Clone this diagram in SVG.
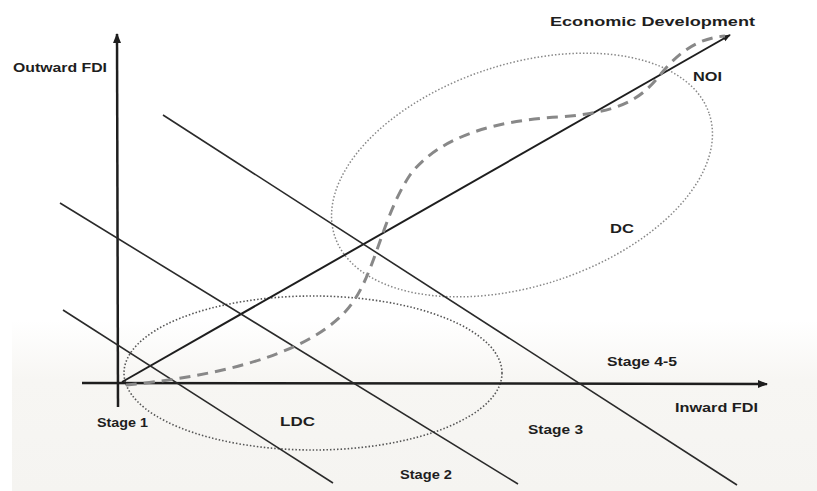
<svg xmlns="http://www.w3.org/2000/svg" width="817" height="491" viewBox="0 0 817 491">
<style>
.lbl{font-family:"Liberation Sans",Arial,sans-serif;font-weight:bold;font-size:12px;fill:#1e1e1e;}
.axis{stroke:#1e1e1e;stroke-width:2.5;fill:none;}
.eco{stroke:#1e1e1e;stroke-width:2;fill:none;}
.diag{stroke:#2a2a2a;stroke-width:1.6;fill:none;}
.ell{fill:none;stroke:#555;stroke-width:1.6;stroke-dasharray:1.5 2;}
.ell2{fill:none;stroke:#888;stroke-width:1.5;stroke-dasharray:1.5 2;}
.path{fill:none;stroke:#888;stroke-width:3;stroke-dasharray:11 7;}
</style>
<defs>
<marker id="ah" viewBox="0 0 10 10" refX="9" refY="5" markerWidth="4" markerHeight="4" orient="auto" markerUnits="strokeWidth">
<path d="M0,1 L10,5 L0,9 z" fill="#1e1e1e"/>
</marker>
<linearGradient id="bg" x1="0" y1="0" x2="0" y2="1">
<stop offset="0" stop-color="#f7f6f3" stop-opacity="0"/>
<stop offset="0.35" stop-color="#f7f6f3" stop-opacity="1"/>
<stop offset="1" stop-color="#f5f4f1" stop-opacity="1"/>
</linearGradient>
</defs>
<rect width="817" height="491" fill="#ffffff"/>
<rect x="12" y="320" width="805" height="171" fill="url(#bg)"/>
<g id="ldc-region">
<ellipse class="ell" cx="313" cy="373" rx="189" ry="77"/>
<text class="lbl" x="280" y="426" textLength="35" lengthAdjust="spacingAndGlyphs">LDC</text>
</g>
<g id="dc-region">
<ellipse class="ell2" cx="522" cy="175" rx="197" ry="111" transform="rotate(-18 522 175)"/>
<text class="lbl" x="610" y="233" textLength="24" lengthAdjust="spacingAndGlyphs">DC</text>
</g>
<g id="connectors">
<line class="axis" x1="118" y1="407" x2="117" y2="34" marker-end="url(#ah)"/>
<line class="axis" x1="82" y1="383" x2="767" y2="384" marker-end="url(#ah)"/>
<line class="eco" x1="122" y1="382" x2="730" y2="35" marker-end="url(#ah)"/>
<line class="diag" x1="63" y1="310" x2="333" y2="483"/>
<line class="diag" x1="60" y1="203" x2="518" y2="484"/>
<line class="diag" x1="163" y1="115" x2="737" y2="485"/>
<path class="path" d="M126,385 C200,378 300,360 345,312 C375,280 380,220 410,175 C440,135 500,120 560,117 C620,112 640,100 660,75 C680,50 700,38 725,36"/>
</g>
<g id="axis-labels">
<text class="lbl" x="13" y="72" textLength="94" lengthAdjust="spacingAndGlyphs">Outward FDI</text>
<text class="lbl" x="675" y="412" textLength="83" lengthAdjust="spacingAndGlyphs">Inward FDI</text>
<text class="lbl" x="550" y="26" font-size="14" textLength="205" lengthAdjust="spacingAndGlyphs">Economic Development</text>
<text class="lbl" x="693" y="81" textLength="29" lengthAdjust="spacingAndGlyphs">NOI</text>
</g>
<g id="stage-labels">
<text class="lbl" x="97" y="427" textLength="51" lengthAdjust="spacingAndGlyphs">Stage 1</text>
<text class="lbl" x="400" y="479" textLength="52" lengthAdjust="spacingAndGlyphs">Stage 2</text>
<text class="lbl" x="528" y="434" textLength="55" lengthAdjust="spacingAndGlyphs">Stage 3</text>
<text class="lbl" x="607" y="366" textLength="70" lengthAdjust="spacingAndGlyphs">Stage 4-5</text>
</g>
</svg>
